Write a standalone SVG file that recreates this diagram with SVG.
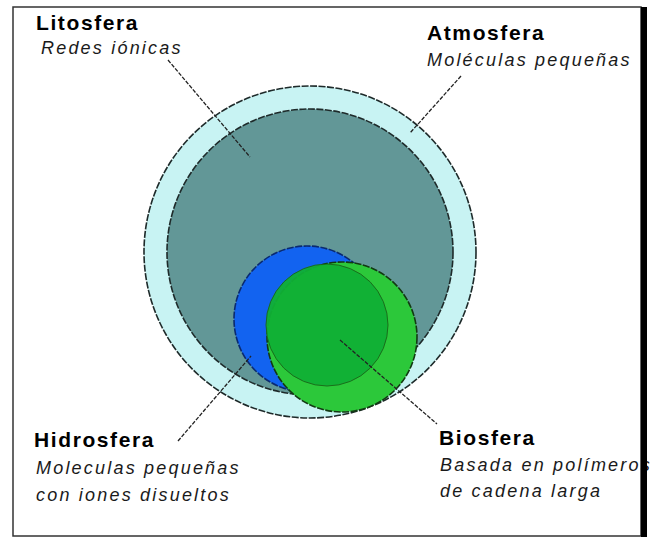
<svg xmlns="http://www.w3.org/2000/svg" width="656" height="543" viewBox="0 0 656 543">
<style>
.ring{stroke:#1e2a2a;stroke-width:1.6;stroke-dasharray:7 1.5}
.lead{stroke:#222;stroke-width:1.3;stroke-dasharray:4 1.5;fill:none}
.t{font-family:"Liberation Sans",Arial,sans-serif;font-size:21px;font-weight:bold;fill:#000;letter-spacing:1.6px}
.s{font-family:"Liberation Sans",Arial,sans-serif;font-size:18px;font-style:italic;fill:#1a1a1a;letter-spacing:2.2px}
</style>
<rect x="0" y="0" width="656" height="543" fill="#fff"/>
<rect x="13" y="7" width="628" height="529" fill="#fff" stroke="#333" stroke-width="1.5"/>
<g id="atmosfera">
<circle cx="310" cy="252" r="166" fill="#c8f3f3" class="ring"/>
</g>
<g id="litosfera">
<circle cx="310" cy="252" r="143" fill="#629797" class="ring"/>
</g>
<g id="hidrosfera">
<circle cx="307" cy="319" r="73" fill="#1263f0" stroke="#0a2a70" stroke-width="1.6" stroke-dasharray="7 1.5"/>
</g>
<g id="biosfera">
<circle cx="342" cy="337" r="75" fill="#2cc83a" stroke="#123a12" stroke-width="1.6" stroke-dasharray="7 1.5"/>
<circle cx="327" cy="325" r="61" fill="#10b035" stroke="#1a6a1a" stroke-width="1" opacity="0.95"/>
</g>
<g id="connectors">
<line class="lead" x1="168" y1="60" x2="250" y2="157"/>
<line class="lead" x1="461" y1="76" x2="410" y2="133"/>
<line class="lead" x1="178" y1="441" x2="251" y2="356"/>
<line class="lead" x1="340" y1="340" x2="437" y2="424"/>
</g>
<g id="labels">
<text class="t" x="36" y="30">Litosfera</text>
<text class="s" x="41" y="54">Redes iónicas</text>
<text class="t" x="427" y="40">Atmosfera</text>
<text class="s" x="427" y="66">Moléculas pequeñas</text>
<text class="t" x="34" y="447">Hidrosfera</text>
<text class="s" x="36" y="474">Moleculas pequeñas</text>
<text class="s" x="36" y="501">con iones disueltos</text>
<text class="t" x="439" y="445">Biosfera</text>
<text class="s" x="440" y="471">Basada en polímeros</text>
<text class="s" x="440" y="497">de cadena larga</text>
</g>
<rect x="641" y="7" width="6" height="530" fill="#000"/>
</svg>
